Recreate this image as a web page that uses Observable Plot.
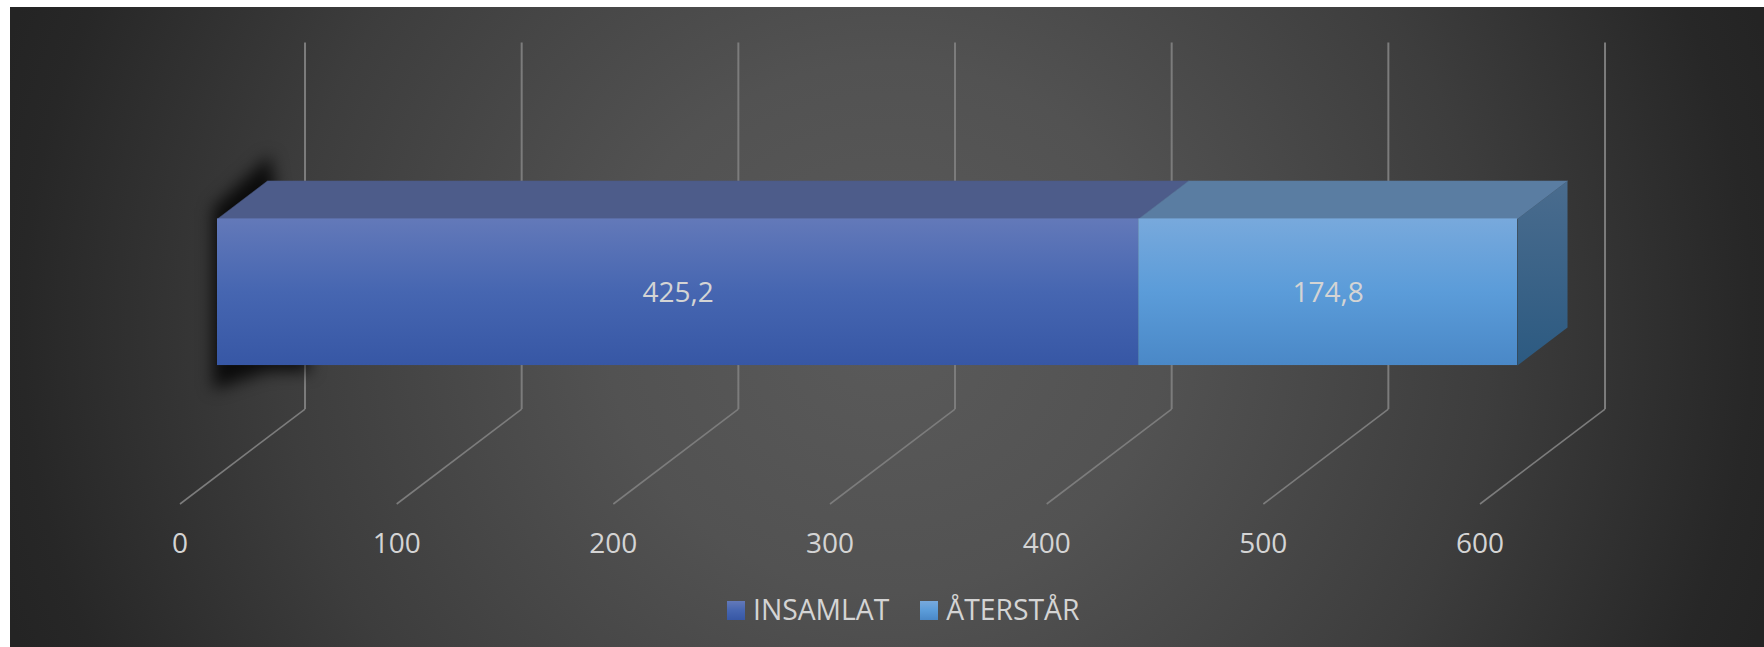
<!DOCTYPE html>
<html lang="sv">
<head>
<meta charset="utf-8">
<script src="https://cdn.jsdelivr.net/npm/d3@7"></script>
<script src="https://cdn.jsdelivr.net/npm/@observablehq/plot@0.6"></script>
<style>
html,body{margin:0;padding:0;background:#fff;overflow:hidden;width:1764px;height:647px}
#bg{position:absolute;left:10px;top:7px;width:1754px;height:640px;
  background:radial-gradient(ellipse 930px 880px at 877px 320px,#5a5a5a 0%,#525252 30%,#3d3d3d 65%,#272727 93%,#242424 100%)}
#chart{position:absolute;left:0;top:0}
#chart svg{display:block;background:transparent}
#legend{position:absolute;left:727px;top:589px;height:40px;display:flex;align-items:center;
  font:28.3px "Open Sans",sans-serif;color:#d4d4d4;white-space:nowrap}
#legend i{display:block;width:18px;height:19px;margin-right:8px;position:relative;top:1px}
#legend span{margin-right:31px}
</style>
</head>
<body>
<div id="bg"></div>
<div id="chart"></div>
<div id="legend"></div>
<script>
// Data
const seriesNames = ["INSAMLAT", "ÅTERSTÅR"];
const seriesValues = [425.2, 174.8];
const valueLabels = ["425,2", "174,8"];
const tickValues = [0, 100, 200, 300, 400, 500, 600];

// Oblique 3D model: z is depth (0 front, 1 back wall), h is height on the wall
const skewX = 57.7, skewY = 0.2589;
const barZ = [0.3, 0.7], barH = [0.3, 0.7];
const px = (v, z) => v + z * skewX;
const py = (h, z) => h + z * skewY;
const pt = (v, z, h, face) => ({x: px(v, z), y: py(h, z), face});

const frontGrad = [["#6379b9","#4666b1","#3757a5"], ["#78a9dc","#5b9cd9","#4a88c7"]];
const topFill = ["#4d5c8a", "#5a7da2"];
const sideGrad = ["#4a6c8e", "#2c5a81"];

let start = 0;
const segments = seriesValues.map((v, i) => {
  const s = {i, x1: start, x2: start + v, label: valueLabels[i]};
  start += v;
  return s;
});
const total = start;

function defsMark() {
  const defs = d3.create("svg:defs");
  const add = (id, stops) => {
    const g = defs.append("linearGradient").attr("id", id).attr("x1",0).attr("y1",0).attr("x2",0).attr("y2",1);
    stops.forEach((c, k) => g.append("stop").attr("offset", k / (stops.length - 1)).attr("stop-color", c));
  };
  frontGrad.forEach((s, i) => add("front" + i, s));
  add("side", sideGrad);
  return defs.node();
}

const shadow = [pt(-2, 0.3, 0.73), pt(0, 0.72, 0.765), pt(3, 0.78, 0.5), pt(20, 0.7, 0.18), pt(0, 0.7, 0.18), pt(-2, 0.3, 0.235)];
const topFace = s => [pt(s.x1, barZ[0], barH[1]), pt(s.x1, barZ[1], barH[1]), pt(s.x2, barZ[1], barH[1]), pt(s.x2, barZ[0], barH[1])];
const sideFace = [pt(total, barZ[0], barH[1]), pt(total, barZ[1], barH[1]), pt(total, barZ[1], barH[0]), pt(total, barZ[0], barH[0])];

const plot = Plot.plot({
  width: 1764, height: 647,
  marginTop: 42, marginBottom: 143.5, marginLeft: 179.5, marginRight: 284.5,
  x: {domain: [0, 600], axis: null},
  y: {domain: [0, 1 + skewY], axis: null},
  style: {background: "transparent"},
  marks: [
    defsMark,
    // floor lines and wall lines
    Plot.link(tickValues, {x1: d => d, y1: 0, x2: d => px(d, 1), y2: skewY, stroke: "#7c7c7c", strokeWidth: 1.6}),
    Plot.link(tickValues, {x1: d => px(d, 1), y1: skewY, x2: d => px(d, 1), y2: 1 + skewY, stroke: "#7c7c7c", strokeWidth: 2}),
    // soft shadow behind the left end of the bar
    Plot.line(shadow, {x: "x", y: "y", fill: "#000", stroke: "none", fillOpacity: 0.8, imageFilter: "blur(8px)"}),
    // top faces
    ...segments.map(s => Plot.line(topFace(s), {x: "x", y: "y", fill: topFill[s.i], stroke: topFill[s.i], strokeWidth: 0.5})),
    // right side
    Plot.line(sideFace, {x: "x", y: "y", fill: "url(#side)", stroke: "none"}),
    // front faces
    ...segments.map(s => Plot.rect([s], {
      x1: d => px(d.x1, barZ[0]), x2: d => px(d.x2, barZ[0]),
      y1: py(barH[0], barZ[0]), y2: py(barH[1], barZ[0]),
      fill: "url(#front" + s.i + ")", inset: 0
    })),
    Plot.text(segments, {
      x: d => px((d.x1 + d.x2) / 2, barZ[0]), y: py(0.497, barZ[0]), text: "label",
      fill: "#d4d4d4", fontSize: 28, fontFamily: "Open Sans"
    }),
    Plot.axisX({
      anchor: "bottom", ticks: tickValues, tickSize: 0, tickPadding: 29,
      tickFormat: d => String(d), label: null, fill: "#d4d4d4", fontSize: 28, fontFamily: "Open Sans"
    })
  ]
});
document.getElementById("chart").append(plot);

const legend = document.getElementById("legend");
seriesNames.forEach((n, i) => {
  const sw = document.createElement("i");
  sw.style.background = `linear-gradient(${frontGrad[i].join(",")})`;
  const t = document.createElement("span");
  t.textContent = n;
  legend.append(sw, t);
});
</script>
</body>
</html>
